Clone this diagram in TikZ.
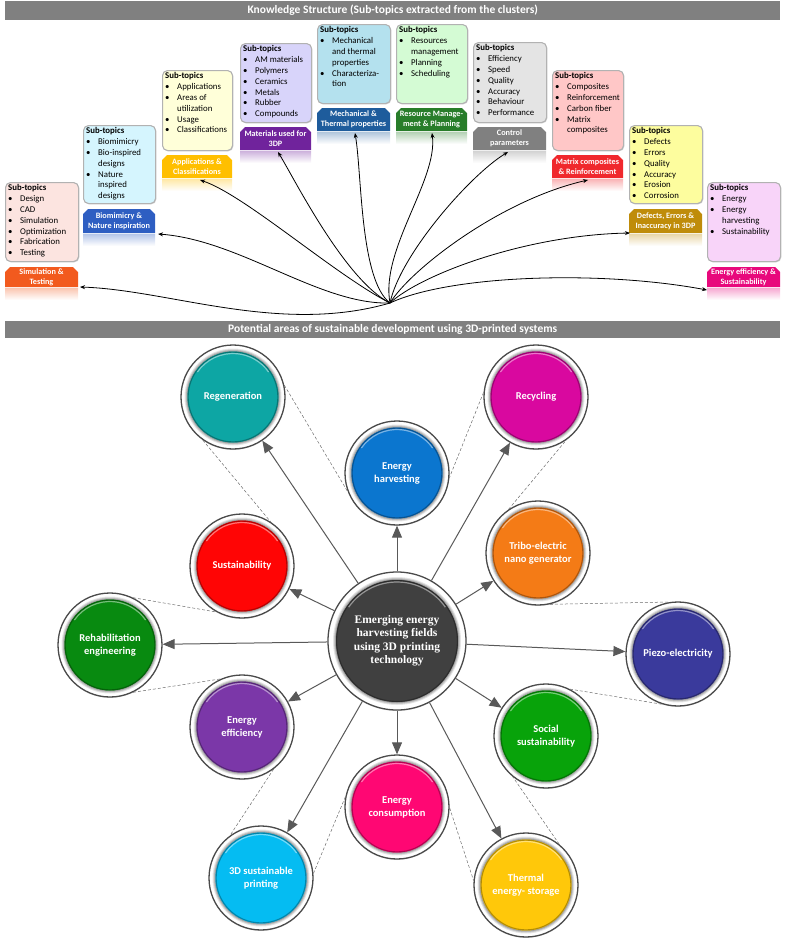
\documentclass[tikz,border=0pt]{standalone}
\usepackage{fontspec}
\setmainfont{Carlito}
\newfontfamily\cserif{Liberation Serif}
\usetikzlibrary{arrows.meta,shadows}
\definecolor{bannergray}{HTML}{808080}
\definecolor{ringgray}{HTML}{4A4A4A}
\definecolor{arrowgray}{HTML}{595959}
% label colours
\definecolor{lsim}{HTML}{F25A1E}
\definecolor{lbio}{HTML}{2E5EC2}
\definecolor{lapp}{HTML}{FFBF00}
\definecolor{lmat}{HTML}{70239C}
\definecolor{lmech}{HTML}{1E5C9C}
\definecolor{lres}{HTML}{287D2A}
\definecolor{lctrl}{HTML}{808080}
\definecolor{lmtx}{HTML}{F0282D}
\definecolor{ldef}{HTML}{BF8C0A}
\definecolor{len}{HTML}{E8087C}
% box fills
\definecolor{fsim}{HTML}{FCE4E0}
\definecolor{fbio}{HTML}{D5F5FE}
\definecolor{fapp}{HTML}{FFFFD9}
\definecolor{fmat}{HTML}{D8D4FA}
\definecolor{fmech}{HTML}{B4E1EE}
\definecolor{fres}{HTML}{D4FBD4}
\definecolor{fctrl}{HTML}{E4E4E4}
\definecolor{fmtx}{HTML}{FFC7C7}
\definecolor{fdef}{HTML}{FDFD9E}
\definecolor{fen}{HTML}{F8D4F9}
% bubble colours
\definecolor{cregen}{HTML}{0DA6A4}
\definecolor{crecyc}{HTML}{D9089F}
\definecolor{ceharv}{HTML}{0B76CF}
\definecolor{ctribo}{HTML}{F47B16}
\definecolor{csust}{HTML}{FF0505}
\definecolor{crehab}{HTML}{088A10}
\definecolor{ccore}{HTML}{404040}
\definecolor{cpiezo}{HTML}{3A3A9C}
\definecolor{ceeff}{HTML}{7B37A8}
\definecolor{csocial}{HTML}{08A30A}
\definecolor{cecon}{HTML}{FF0773}
\definecolor{cprint}{HTML}{05BCF2}
\definecolor{cthermal}{HTML}{FFC80A}

\newcommand\bul[1]{\makebox[12pt][l]{\textbullet}#1}
\newcommand\cont[1]{\makebox[12pt][l]{}#1}

\tikzset{
 banner/.style={fill=bannergray, minimum height=19, inner sep=0, text=white,
   font=\bfseries\fontsize{11.5}{13}\selectfont, anchor=north west},
 subbox/.style={draw=gray!60, line width=1.1pt, rounded corners=5pt,
   drop shadow={opacity=.35, shadow xshift=.8pt, shadow yshift=-.8pt},
   inner sep=0, anchor=north west},
 subtxt/.style={font=\fontsize{8.8}{10.8}\selectfont, align=left, inner sep=0,
   anchor=north west, text=black},
 labtxt/.style={font=\bfseries\fontsize{8.2}{10.2}\selectfont, align=center,
   text=white, inner sep=0},
 ring/.style={circle, draw=ringgray, line width=1.3pt, fill=white, inner sep=0,
   drop shadow={opacity=.25, shadow xshift=0pt, shadow yshift=-1pt}},
 bubtxt/.style={font=\bfseries\fontsize{10.5}{13}\selectfont, text=white,
   align=center, inner sep=0},
 coretxt/.style={font=\cserif\bfseries\fontsize{11.5}{13.5}\selectfont, text=white,
   align=center, inner sep=0},
 garrow/.style={draw=arrowgray, line width=1pt, -{Triangle[length=12pt,width=10pt]}},
 dashln/.style={draw=gray!85!black, line width=.5pt, dash pattern=on 3pt off 2pt},
 karrow/.style={draw=black, line width=.8pt, -{Stealth[length=5pt,width=4pt]}},
}

% name, x1, y1, x2, y2, fill, content
\newcommand\subbox[7]{%
 \node[subbox, fill=#6, minimum width={#4-#2}, minimum height={#5-#3}] (#1) at (#2,#3) {};
 \node[subtxt] (#1t) at ([xshift=3pt,yshift=-2.5pt]#1.north west) {#7};
}
% name, x1, y1, x2, y2, colour, text
\newcommand\sublabel[7]{%
 \fill[#6] (#2,#5) -- (#2,#3+5) -- (#2+5,#3) -- (#4-5,#3) -- (#4,#3+5) -- (#4,#5) -- cycle;
 \shade[top color=#6!35, bottom color=white] (#2,#5+1) rectangle (#4,#5+13);
 \node[labtxt] (#1) at ({(#2+#4)/2},{(#3+#5)/2}) {#7};
}
% name, x, y, colour, ring diameter, disk radius, text style, text
\newcommand\bubgen[8]{%
 \node[ring, minimum size=#5] (#1) at (#2,#3) {};
 \fill[black,opacity=.10] (#2,#3) circle ({#6+3});
 \fill[black,opacity=.14] (#2,#3) circle ({#6+2});
 \fill[black,opacity=.18] (#2,#3) circle ({#6+1});
 \fill[#4] (#2,#3) circle ({#6});
 \draw[#4!70!black, line width=1.1pt] (#2,#3) circle ({#6-0.6});
 \draw[white, opacity=.45, line width=1.2pt] (#2,#3) ++({215}:{#6-2}) arc[start angle=215, end angle=325, radius={#6-2}];
 \node[#7] (#1t) at (#2,#3) {#8};
}

\begin{document}
\begin{tikzpicture}[x=1pt,y=-1pt]
\useasboundingbox (0,0) rectangle (786,938);

% ---------- banners ----------
\node[banner, minimum width=775] (kb) at (5,1) {Knowledge Structure (Sub-topics extracted from the clusters)};
\node[banner, minimum width=775, minimum height=17] (pb) at (5,321) {Potential areas of sustainable development using 3D-printed systems};

% ---------- sub-topic boxes ----------
\subbox{b1}{5}{182}{78}{261}{fsim}{\textbf{Sub-topics}\\\bul{Design}\\\bul{CAD}\\\bul{Simulation}\\\bul{Optimization}\\\bul{Fabrication}\\\bul{Testing}}
\sublabel{l1}{5}{267}{78}{287}{lsim}{Simulation \&\\Testing}

\subbox{b2}{83}{125}{155}{203}{fbio}{\textbf{Sub-topics}\\\bul{Biomimicry}\\\bul{Bio-inspired}\\\cont{designs}\\\bul{Nature}\\\cont{inspired}\\\cont{designs}}
\sublabel{l2}{83}{209}{155}{233}{lbio}{Biomimicry \&\\Nature inspiration}

\subbox{b3}{162}{70}{232}{150}{fapp}{\textbf{Sub-topics}\\\bul{Applications}\\\bul{Areas of}\\\cont{utilization}\\\bul{Usage}\\\bul{Classifications}}
\sublabel{l3}{162}{155}{232}{178}{lapp}{Applications \&\\Classifications}

\subbox{b4}{240}{43}{311}{122}{fmat}{\textbf{Sub-topics}\\\bul{AM materials}\\\bul{Polymers}\\\bul{Ceramics}\\\bul{Metals}\\\bul{Rubber}\\\bul{Compounds}}
\sublabel{l4}{240}{127}{311}{150}{lmat}{Materials used for\\3DP}

\subbox{b5}{317}{24}{390}{103}{fmech}{\textbf{Sub-topics}\\\bul{Mechanical}\\\cont{and thermal}\\\cont{properties}\\\bul{Characteriza-}\\\cont{tion}}
\sublabel{l5}{317}{108}{390}{131}{lmech}{Mechanical \&\\Thermal properties}

\subbox{b6}{396}{24}{467}{103}{fres}{\textbf{Sub-topics}\\\bul{Resources}\\\cont{management}\\\bul{Planning}\\\bul{Scheduling}}
\sublabel{l6}{396}{108}{467}{131}{lres}{Resource Manage-\\ment \& Planning}

\subbox{b7}{473}{42}{546}{122}{fctrl}{\textbf{Sub-topics}\\\bul{Efficiency}\\\bul{Speed}\\\bul{Quality}\\\bul{Accuracy}\\\bul{Behaviour}\\\bul{Performance}}
\sublabel{l7}{473}{127}{546}{150}{lctrl}{Control\\parameters}

\subbox{b8}{552}{70}{623}{150}{fmtx}{\textbf{Sub-topics}\\\bul{Composites}\\\bul{Reinforcement}\\\bul{Carbon fiber}\\\bul{Matrix}\\\cont{composites}}
\sublabel{l8}{552}{155}{623}{178}{lmtx}{Matrix composites\\\& Reinforcement}

\subbox{b9}{629}{125}{702}{203}{fdef}{\textbf{Sub-topics}\\\bul{Defects}\\\bul{Errors}\\\bul{Quality}\\\bul{Accuracy}\\\bul{Erosion}\\\bul{Corrosion}}
\sublabel{l9}{629}{209}{702}{233}{ldef}{Defects, Errors \&\\Inaccuracy in 3DP}

\subbox{b10}{707}{182}{780}{261}{fen}{\textbf{Sub-topics}\\\bul{Energy}\\\bul{Energy}\\\cont{harvesting}\\\bul{Sustainability}}
\sublabel{l10}{707}{267}{780}{287}{len}{Energy efficiency \&\\Sustainability}

% ---------- top connectors ----------
\coordinate (hub) at (390,303);
\coordinate (t1) at (80,287);
\coordinate (t2) at (158,234);
\coordinate (t3) at (200,180);
\coordinate (t4) at (278,152);
\coordinate (t5) at (355,133);
\coordinate (t6) at (432,133);
\coordinate (t7) at (508,152);
\coordinate (t8) at (588,180);
\coordinate (t9) at (630,233);
\coordinate (t10) at (707,290);
\draw[karrow] (hub) .. controls (280,335) and (170,290) .. (t1);
\draw[karrow] (hub) .. controls (320,305) and (240,240) .. (t2);
\draw[karrow] (hub) .. controls (335,275) and (245,195) .. (t3);
\draw[karrow] (hub) .. controls (345,280) and (295,180) .. (t4);
\draw[karrow] (hub) .. controls (360,280) and (362,175) .. (t5);
\draw[karrow] (hub) .. controls (380,250) and (438,180) .. (t6);
\draw[karrow] (hub) .. controls (400,255) and (470,175) .. (t7);
\draw[karrow] (hub) .. controls (410,270) and (500,200) .. (t8);
\draw[karrow] (hub) .. controls (420,275) and (525,235) .. (t9);
\draw[karrow] (hub) .. controls (450,275) and (600,270) .. (t10);

% ---------- bottom bubbles ----------
\bubgen{regen}{233}{397}{cregen}{104}{45.5}{bubtxt}{Regeneration}
\bubgen{recyc}{536}{397}{crecyc}{104}{45.5}{bubtxt}{Recycling}
\bubgen{eharv}{397}{473}{ceharv}{104}{45.5}{bubtxt}{Energy\\harvesting}
\bubgen{tribo}{538}{553}{ctribo}{104}{45.5}{bubtxt}{Tribo-electric\\nano generator}
\bubgen{sust}{242}{566}{csust}{104}{45.5}{bubtxt}{Sustainability}
\bubgen{rehab}{110}{645}{crehab}{104}{45.5}{bubtxt}{Rehabilitation\\engineering}
\bubgen{core}{397}{641}{ccore}{138}{61}{coretxt}{Emerging energy\\harvesting fields\\using 3D printing\\technology}
\bubgen{piezo}{678}{654}{cpiezo}{104}{45.5}{bubtxt}{Piezo-electricity}
\bubgen{eeff}{242}{727}{ceeff}{104}{45.5}{bubtxt}{Energy\\efficiency}
\bubgen{social}{546}{736}{csocial}{104}{45.5}{bubtxt}{Social\\sustainability}
\bubgen{econ}{397}{807}{cecon}{104}{45.5}{bubtxt}{Energy\\consumption}
\bubgen{print}{261}{878}{cprint}{104}{45.5}{bubtxt}{3D sustainable\\printing}
\bubgen{thermal}{526}{885}{cthermal}{104}{45.5}{bubtxt}{Thermal\\energy- storage}

% dashed links
\draw[dashln] (regen.13) -- (eharv.201);
\draw[dashln] (regen.235) -- (sust.57);
\draw[dashln] (rehab.64) -- (sust.241);
\draw[dashln] (rehab.296) -- (eeff.114);
\draw[dashln] (eeff.307) -- (print.126);
\draw[dashln] (print.5) -- (econ.169);
\draw[dashln] (econ.359) -- (thermal.175);
\draw[dashln] (thermal.51) -- (social.231);
\draw[dashln] (social.63) -- (piezo.253);
\draw[dashln] (tribo.283) -- (piezo.99);
\draw[dashln] (tribo.124) -- (recyc.305);
\draw[dashln] (recyc.175) -- (eharv.355);

% arrows from the core
\foreach \t in {regen,recyc,eharv,tribo,sust,rehab,piezo,eeff,social,econ,print,thermal}
  \draw[garrow] (core) -- (\t);
\end{tikzpicture}
\end{document}
